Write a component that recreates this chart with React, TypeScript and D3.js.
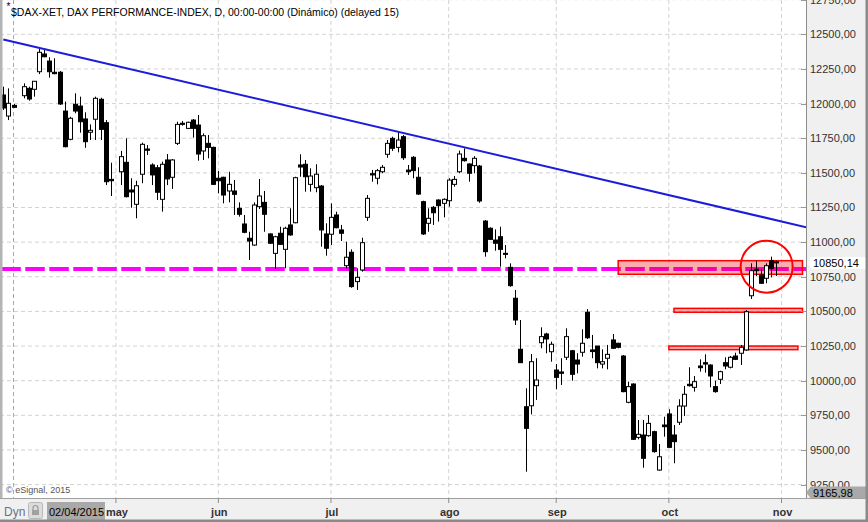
import React, { useEffect, useRef } from "react";
import * as d3 from "d3";

// slot = trading-day position on the x axis, holidays leave an empty slot
const emptySlots = [3, 22];
const slotCount = 152;

const open = [
  12062, 11910, 11987,
  12057, 12110, 12103, 12230, 12358, 12307,
  12226, 12226, 11946, 11742, 11995, 11982, 11889, 11793, 11887, 12031,
  11862, 11453,
  11508, 11576, 11376, 11273, 11490, 11672, 11557,
  11537, 11309, 11593, 11468, 11713, 11858, 11821, 11881, 11845, 11658,
  11713, 11684, 11461, 11468, 11369, 11369, 11244, 11131, 11028, 10979,
  11256, 11287, 11059, 10919, 11064, 10948, 11124, 11140, 11557, 11562,
  11417, 11393, 11405, 11059, 11057, 11196, 11088, 10830, 10927, 10715,
  10799, 11179, 11494, 11461, 11508, 11634, 11749, 11684, 11761, 11520,
  11612, 11468, 11292, 11136, 11251, 11304, 11280, 11299, 11417, 11508,
  11605, 11564, 11552, 11549, 11152, 11100, 11015, 11039, 10919, 10818,
  10595, 10227, 9812, 9819, 9964, 10274, 10337, 10209, 10077, 10063,
  10169, 10216, 10149, 10205, 10494, 10222, 10250, 10120, 10162, 10294,
  10270, 10178, 9844, 9976, 9591, 9608, 9603, 9632, 9355, 9680,
  9760, 9608, 9700, 9817, 9974, 9952, 10106, 10130, 10113, 9957,
  10010, 10130, 10097, 10178, 10198, 10222, 10613, 10804, 10763, 10739,
  10866, 10858,
];
const high = [
  12122, 12110, 11997,
  12146, 12122, 12163, 12394, 12387, 12334,
  12327, 12235, 12014, 11905, 12074, 12050, 11937, 11850, 12050, 12042,
  11881, 11573,
  11658, 11749, 11461, 11443, 11718, 11701, 11569,
  11557, 11581, 11636, 11600, 11869, 11874, 11869, 11889, 11918, 11785,
  11773, 11689, 11513, 11472, 11508, 11448, 11287, 11196, 11075, 11287,
  11456, 11369, 11064, 11046, 11111, 11111, 11244, 11472, 11634, 11593,
  11533, 11562, 11412, 11136, 11280, 11220, 11124, 11003, 10948, 10811,
  11032, 11340, 11521, 11528, 11557, 11737, 11761, 11802, 11773, 11557,
  11621, 11540, 11299, 11244, 11261, 11309, 11316, 11461, 11477, 11660,
  11677, 11569, 11621, 11557, 11160, 11107, 11092, 11111, 10979, 10847,
  10655, 10438, 9945, 10193, 10162, 10385, 10346, 10282, 10120, 10162,
  10378, 10222, 10198, 10371, 10517, 10330, 10250, 10226, 10258, 10337,
  10274, 10185, 9993, 9981, 9716, 9716, 9752, 9639, 9543, 9740,
  9794, 9680, 9866, 9962, 10097, 10034, 10154, 10190, 10118, 10000,
  10072, 10169, 10178, 10202, 10258, 10510, 10847, 10866, 10804, 10847,
  10895, 10866,
];
const low = [
  11954, 11881, 11968,
  12038, 12021, 12050, 12213, 12334, 12187,
  12211, 11990, 11684, 11735, 11930, 11790, 11681, 11737, 11737, 11737,
  11412, 11333,
  11412, 11323, 11248, 11172, 11425, 11629, 11412,
  11304, 11220, 11412, 11384, 11701, 11840, 11816, 11754, 11588, 11593,
  11605, 11412, 11352, 11280, 11287, 11196, 11184, 11064, 10871, 10974,
  11239, 11075, 10987, 10806, 10979, 10811, 11046, 11136, 11472, 11364,
  11364, 11360, 10967, 10902, 10979, 11100, 11008, 10811, 10671, 10655,
  10787, 11153, 11436, 11417, 11497, 11609, 11658, 11648, 11593, 11485,
  11461, 11340, 11052, 11075, 11124, 11148, 11179, 11256, 11400, 11497,
  11581, 11436, 11497, 11284, 10895, 11015, 10938, 10823, 10883, 10678,
  10402, 10130, 9343, 9757, 9861, 10234, 10198, 10137, 9938, 9969,
  10149, 10000, 10053, 10173, 10301, 10162, 10089, 10089, 10082, 10229,
  10234, 9916, 9837, 9572, 9577, 9372, 9596, 9480, 9350, 9596,
  9514, 9404, 9680, 9745, 9957, 9921, 10065, 10058, 9952, 9913,
  9976, 10082, 10089, 10149, 10113, 10216, 10590, 10756, 10698, 10703,
  10746, 10756,
];
const close = [
  11968, 12002, 11973,
  12122, 12033, 12161, 12370, 12338, 12230,
  12216, 11997, 11689, 11894, 11946, 11869, 11725, 11807, 12038, 11814,
  11436, 11443,
  11617, 11328, 11362, 11407, 11706, 11663, 11485,
  11360, 11562, 11456, 11593, 11850, 11850, 11865, 11821, 11636, 11768,
  11684, 11417, 11443, 11340, 11417, 11345, 11201, 11071, 11008, 11268,
  11333, 11201, 10992, 11039, 10984, 11100, 11052, 11465, 11542, 11472,
  11477, 11490, 11088, 10956, 11179, 11104, 11064, 10891, 10679, 10746,
  10996, 11316, 11485, 11516, 11540, 11713, 11677, 11737, 11609, 11508,
  11516, 11347, 11059, 11172, 11212, 11263, 11309, 11448, 11453, 11636,
  11588, 11497, 11605, 11297, 10931, 11020, 10992, 10948, 10912, 10686,
  10438, 10130, 9656, 10137, 10005, 10318, 10301, 10263, 10024, 10053,
  10318, 10046, 10120, 10270, 10310, 10210, 10130, 10137, 10190, 10234,
  10241, 9921, 9957, 9577, 9613, 9440, 9692, 9488, 9451, 9668,
  9519, 9560, 9817, 9902, 9964, 9993, 10094, 10120, 10034, 9921,
  10065, 10106, 10169, 10154, 10241, 10498, 10794, 10794, 10703, 10830,
  10811, 10850,
];

const monthSlots = [22, 42, 64, 87, 108, 130, 152];
const monthLabels = ["may", "jun", "jul", "ago", "sep", "oct", "nov"];
const priceTicks = [9250, 9500, 9750, 10000, 10250, 10500, 10750, 11000, 11250, 11500, 11750, 12000, 12250, 12500, 12750];

// drawings
const trendSlots = [0, 157];
const trendPrices = [12463, 11106];
const supportPrice = 10806;
const zoneStart = [120.1, 131.0, 130.0];
const zoneEnd = [156.1, 156.1, 155.2];
const zoneLow = [10768, 10494, 10224];
const zoneHigh = [10866, 10522, 10250];
const circleSlot = 149.1;
const circlePrice = 10823;
const cursorSlot = 2;
const cursorDate = "02/04/2015";
const lastPrice = "10850,14";
const bottomPrice = "9165,98";
const title = "$DAX-XET, DAX PERFORMANCE-INDEX, D, 00:00-00:00 (Dinámico) (delayed 15)";

const FONT = "'Liberation Sans', Arial, sans-serif";

function draw(node: SVGSVGElement) {
  const W = 868, H = 522;
  const plotR = 806, plotB = 498;
  const svg = d3.select(node);
  svg.selectAll("*").remove();

  const x = d3.scaleLinear().domain([0, 152]).range([3.3, 781.5]);
  const y = d3.scaleLinear().domain([9250, 12500]).range([484.6, 34.3]);
  const fmt = (v: number) => d3.format(".2f")(v).replace(".", ",");

  const slots = d3.range(slotCount).filter(i => !emptySlots.includes(i));
  const candles = slots.map((s, i) => ({ s, o: open[i], h: high[i], l: low[i], c: close[i] }));

  svg.append("rect").attr("width", W).attr("height", H).attr("fill", "#f0f0f0");
  svg.append("rect").attr("width", plotR).attr("height", plotB).attr("fill", "#fff");

  svg.append("defs").append("clipPath").attr("id", "plot")
    .append("rect").attr("width", plotR).attr("height", plotB);

  const plot = svg.append("g").attr("clip-path", "url(#plot)");

  // grid
  plot.selectAll(".hg").data(priceTicks).join("line")
    .attr("x1", 0).attr("x2", plotR)
    .attr("y1", d => y(d)).attr("y2", d => y(d))
    .attr("stroke", "#d2d2d2").attr("stroke-dasharray", "4,3");
  plot.selectAll(".vg").data(monthSlots).join("line")
    .attr("x1", d => x(d)).attr("x2", d => x(d))
    .attr("y1", 0).attr("y2", plotB)
    .attr("stroke", "#d2d2d2").attr("stroke-dasharray", "4,3");
  plot.append("line")
    .attr("x1", x(cursorSlot)).attr("x2", x(cursorSlot))
    .attr("y1", 0).attr("y2", plotB)
    .attr("stroke", "#a8a8a8").attr("stroke-dasharray", "4,3");

  // support line
  plot.append("line")
    .attr("x1", 1.3).attr("x2", plotR)
    .attr("y1", y(supportPrice)).attr("y2", y(supportPrice))
    .attr("stroke", "#ff00ff").attr("stroke-width", 4)
    .attr("stroke-dasharray", "19.5,4.5");

  // zones
  plot.selectAll(".zone").data(zoneStart).join("rect")
    .attr("x", (d, i) => x(d))
    .attr("width", (d, i) => x(zoneEnd[i]) - x(d))
    .attr("y", (d, i) => y(zoneHigh[i]))
    .attr("height", (d, i) => y(zoneLow[i]) - y(zoneHigh[i]))
    .attr("fill", "rgba(240,0,0,0.32)")
    .attr("stroke", "#ff0000").attr("stroke-width", 1.5);

  // candles
  const g = plot.append("g");
  g.selectAll("line").data(candles).join("line")
    .attr("x1", d => Math.round(x(d.s)) + 0.5).attr("x2", d => Math.round(x(d.s)) + 0.5)
    .attr("y1", d => y(d.h)).attr("y2", d => y(d.l))
    .attr("stroke", "#000");
  g.selectAll("rect").data(candles).join("rect")
    .attr("x", d => Math.round(x(d.s)) - 1.5)
    .attr("width", 4)
    .attr("y", d => y(Math.max(d.o, d.c)))
    .attr("height", d => Math.max(1, y(Math.min(d.o, d.c)) - y(Math.max(d.o, d.c))))
    .attr("fill", d => d.c >= d.o ? "#fff" : "#000")
    .attr("stroke", "#000");

  // trend line
  plot.append("line")
    .attr("x1", x(trendSlots[0])).attr("y1", y(trendPrices[0]))
    .attr("x2", x(trendSlots[1])).attr("y2", y(trendPrices[1]))
    .attr("stroke", "#1c1cdc").attr("stroke-width", 2);

  plot.append("circle")
    .attr("cx", x(circleSlot)).attr("cy", y(circlePrice)).attr("r", 26)
    .attr("fill", "none").attr("stroke", "#ff0000").attr("stroke-width", 2);

  // title
  svg.append("text").attr("x", 6.5).attr("y", 10).attr("font-size", 10)
    .attr("font-family", FONT).text("*");
  svg.append("text").attr("x", 11).attr("y", 15.5).attr("font-size", 10.5)
    .attr("font-family", FONT).attr("fill", "#000").text(title);

  svg.append("text").attr("x", 6).attr("y", 493).attr("font-size", 9)
    .attr("font-family", FONT).attr("fill", "#555").text("© eSignal, 2015");

  // left edge
  svg.append("rect").attr("width", 2.5).attr("height", plotB).attr("fill", "#b4b4b4");

  // right axis
  svg.append("line").attr("x1", plotR + 0.5).attr("x2", plotR + 0.5).attr("y1", 0).attr("y2", plotB)
    .attr("stroke", "#8c8c8c");
  const ya = svg.append("g");
  ya.selectAll("line").data(priceTicks).join("line")
    .attr("x1", plotR - 5).attr("x2", plotR)
    .attr("y1", d => Math.round(y(d)) + 0.5).attr("y2", d => Math.round(y(d)) + 0.5)
    .attr("stroke", "#999");
  ya.selectAll("text").data(priceTicks).join("text")
    .attr("x", 810).attr("y", d => y(d) + 4)
    .attr("font-size", 11).attr("font-family", FONT).attr("fill", "#333")
    .text(d => fmt(d));

  // last price marker
  const ly = y(10850.14);
  svg.append("path")
    .attr("d", `M807,${ly} L812,${ly - 6} L866,${ly - 6} L866,${ly + 6} L812,${ly + 6} Z`)
    .attr("fill", "#fff");
  svg.append("text").attr("x", 813).attr("y", ly + 4).attr("font-size", 11)
    .attr("font-family", FONT).attr("fill", "#000").text(lastPrice);

  const by = 492.5;
  svg.append("path")
    .attr("d", `M806,${by} L811,${by - 6} L868,${by - 6} L868,${by + 6} L811,${by + 6} Z`)
    .attr("fill", "#a9a9a9");
  svg.append("text").attr("x", 813).attr("y", by + 4).attr("font-size", 11)
    .attr("font-family", FONT).attr("fill", "#000").text(bottomPrice);

  // bottom axis
  svg.append("line").attr("x1", 0).attr("x2", W).attr("y1", plotB + 0.5).attr("y2", plotB + 0.5)
    .attr("stroke", "#a0a0a0");
  const xa = svg.append("g");
  xa.selectAll("line").data(monthSlots).join("line")
    .attr("x1", d => x(d)).attr("x2", d => x(d))
    .attr("y1", plotB).attr("y2", plotB + 5)
    .attr("stroke", "#8c8c8c");
  xa.selectAll("text").data(monthLabels).join("text")
    .attr("x", (d, i) => x(monthSlots[i]) + 1).attr("y", 516)
    .attr("text-anchor", "middle")
    .attr("font-size", 11).attr("font-weight", "bold").attr("font-family", FONT)
    .attr("fill", "#333").text(d => d);

  svg.append("text").attr("x", 4).attr("y", 516).attr("font-size", 12)
    .attr("font-family", FONT).attr("fill", "#6a7088").text("Dyn");
  svg.append("rect").attr("x", 28.5).attr("y", 502.5).attr("width", 14).attr("height", 16).attr("rx", 2)
    .attr("fill", "#dcdcdc").attr("stroke", "#b8b8b8");
  svg.append("path").attr("d", "M33,510 v-2 a2.5,2.5 0 0 1 5,0 v2").attr("fill", "none").attr("stroke", "#999").attr("stroke-width", 1.2);
  svg.append("rect").attr("x", 32).attr("y", 510).attr("width", 7).attr("height", 5).attr("fill", "#a0a0a0");
  svg.append("rect").attr("x", 47).attr("y", 502).attr("width", 58).attr("height", 18).attr("fill", "#a9a9a9");
  svg.append("text").attr("x", 49).attr("y", 515.5).attr("font-size", 11)
    .attr("font-family", FONT).attr("fill", "#000").text(cursorDate);

  // window frame
  svg.append("rect").attr("x", 0).attr("y", 519.5).attr("width", W).attr("height", 2.5).attr("fill", "#8a8a8a");
  svg.append("rect").attr("x", 865.5).attr("y", 0).attr("width", 2.5).attr("height", H).attr("fill", "#8a8a8a");
}

export default function App() {
  const ref = useRef<SVGSVGElement>(null);
  useEffect(() => {
    if (ref.current) draw(ref.current);
  }, []);
  return (
    <>
      <style>{`body{margin:0}`}</style>
      <svg ref={ref} width={868} height={522} style={{ display: "block" }} />
    </>
  );
}
